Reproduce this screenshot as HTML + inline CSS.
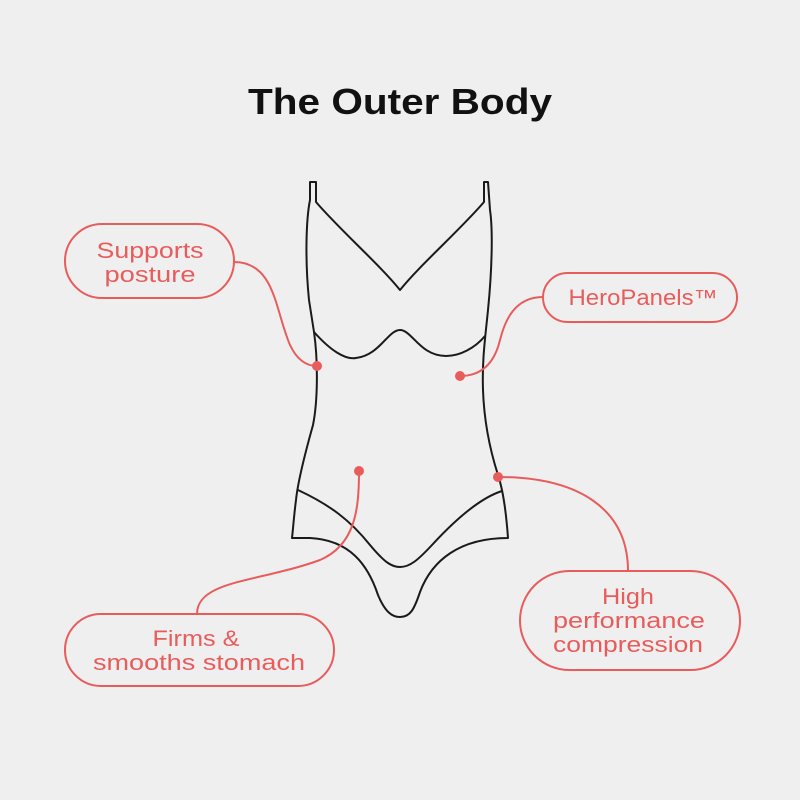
<!DOCTYPE html>
<html><head><style>
body{margin:0;background:#efefef;}
svg{display:block}
text{font-family:"Liberation Sans",sans-serif;}
</style></head><body>
<svg width="800" height="800" viewBox="0 0 800 800">
<rect width="800" height="800" fill="#efefef"/>
<text x="400" y="114" text-anchor="middle" font-size="36" font-weight="bold" fill="#111" textLength="304" lengthAdjust="spacingAndGlyphs">The Outer Body</text>
<g fill="none" stroke="#1a1a1a" stroke-width="2" stroke-linejoin="round">
<path d="M316,202 L316,182 L310,182 L310,200 C306,220 305,260 309,300 L314,332 C318,360 318,400 313,425 C306,450 298,480 296,500 C294,515 293,530 292,538 L310,538 C350,540 368,565 378,595 C385,612 392,617 400,617 C410,617 414,610 420,592 C432,560 460,538 508,538 C506,510 503,490 498,475 C490,450 484,420 483,390 C482,360 485,340 488,310 C492,270 493,230 490,210 L488,182 L484,182 L484,202 C460,230 420,265 400,290 C380,265 340,230 316,202 Z"/>
<path d="M314,332 C330,350 345,360 356,358 C380,355 388,330 400,330 C412,330 420,356 446,356 C460,356 475,348 485,336"/>
<path d="M298,490 C330,505 350,520 370,545 C385,563 392,567 400,567 C410,567 418,560 432,545 C455,520 480,498 502,491"/>
</g>
<g fill="none" stroke="#e85c5c" stroke-width="2">
<rect x="65" y="224" width="169" height="74" rx="37"/>
<rect x="543" y="273" width="194" height="49" rx="24.5"/>
<rect x="65" y="614" width="269" height="72" rx="36"/>
<rect x="520" y="571" width="220" height="99" rx="49.5"/>
<path d="M234,262 C275,262 275,310 290,345 C298,362 308,366 317,366"/>
<path d="M543,297 C515,297 505,320 500,340 C494,365 480,376 460,376"/>
<path d="M197,614 C197,580 260,582 320,560 C355,545 359,510 359,471"/>
<path d="M628,571 C628,510 580,477 498,477"/>
</g>
<g fill="#e85c5c">
<circle cx="317" cy="366" r="5"/><circle cx="460" cy="376" r="5"/>
<circle cx="359" cy="471" r="5"/><circle cx="498" cy="477" r="5"/>
</g>
<g fill="#e85c5c" font-size="22" text-anchor="middle" lengthAdjust="spacingAndGlyphs">
<text x="150" y="258" textLength="107" lengthAdjust="spacingAndGlyphs">Supports</text>
<text x="150" y="282" textLength="91" lengthAdjust="spacingAndGlyphs">posture</text>
<text x="643" y="305" textLength="149" lengthAdjust="spacingAndGlyphs">HeroPanels™</text>
<text x="196" y="646" textLength="87" lengthAdjust="spacingAndGlyphs">Firms &amp;</text>
<text x="199" y="670" textLength="212" lengthAdjust="spacingAndGlyphs">smooths stomach</text>
<text x="628" y="604" textLength="52" lengthAdjust="spacingAndGlyphs">High</text>
<text x="629" y="628" textLength="152" lengthAdjust="spacingAndGlyphs">performance</text>
<text x="628" y="652" textLength="150" lengthAdjust="spacingAndGlyphs">compression</text>
</g>
</svg>
</body></html>
